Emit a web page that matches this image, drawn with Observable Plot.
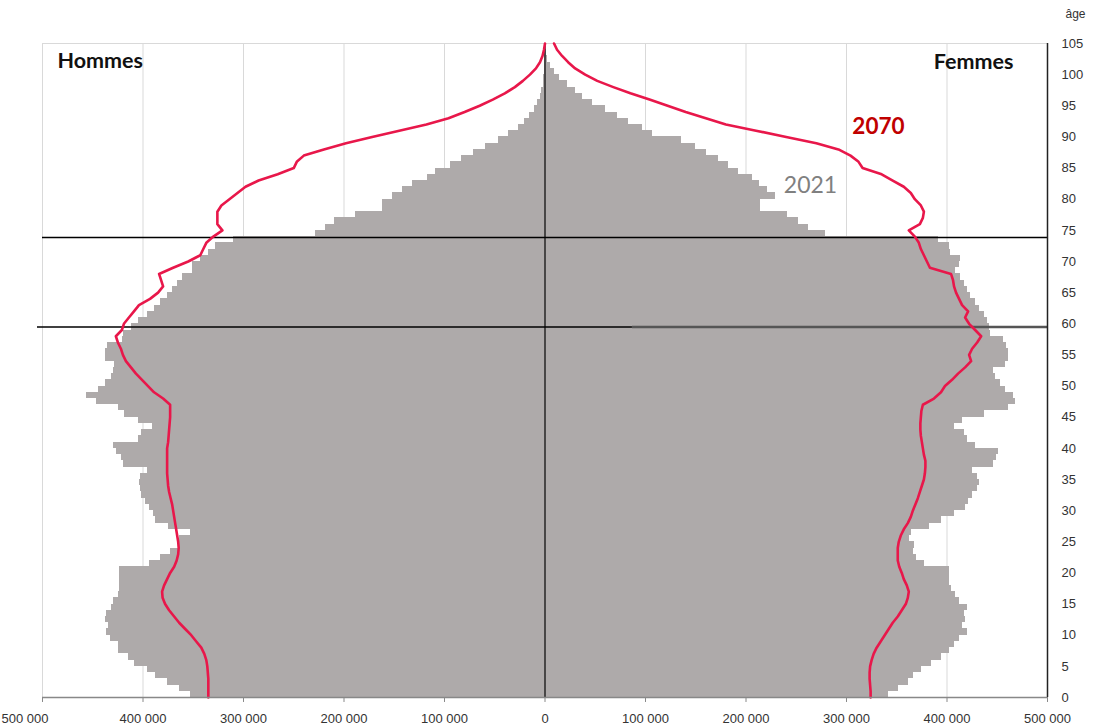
<!DOCTYPE html>
<html><head><meta charset="utf-8">
<script src="https://cdn.jsdelivr.net/npm/d3@7"></script>
<script src="https://cdn.jsdelivr.net/npm/@observablehq/plot@0.6"></script>
<style>body{margin:0;background:#fff}</style>
</head><body><div id="chart"></div>
<script>
// Ages (categories)
const ages = d3.range(0, 106);
// 2021 population (thousands) by single year of age, bars
const men2021 = [
 353,364,376,388,396,408,414,424,424,432,
 436,434,437,436,431,429,424,423,423,423,
 423,394,383,373,364,364,353,375,388,390,
 394,398,401,402,403,402,396,419,421,426,
 429,404,401,391,404,418,424,446,456,444,
 437,431,429,428,437,437,435,420,419,411,
 404,396,389,383,376,371,366,361,351,351,
 343,335,328,310,228,218,209,189,162,162,
 152,142,132,117,109,94,83,71,59,46,
 36,26,20,15,10,7,4.6,3,1.8,1.1,
 0.6,0.3,0.1,0.05,0,0];
const women2021 = [
 342,352,362,367,375,385,395,402,407,412,
 420,415,418,417,420,412,408,404,402,402,
 402,378,370,367,368,363,365,383,395,407,
 418,421,425,430,432,430,425,446,449,451,
 428,420,417,407,415,437,461,468,466,458,
 453,448,446,458,461,461,459,456,443,442,
 440,437,432,428,423,420,417,413,408,412,
 413,403,402,392,279,262,252,241,214,214,
 229,221,213,206,193,183,173,161,150,136,
 107,97,83,72,60,47,37,30,22,14,
 9,5,2,1,0.5,0.2];
// 2070 projection (thousands), red line
const men2070 = [
 335,335,335,335,335.5,336,337,339,342,347,
 352,358,364,369,374,378,380.5,381,379,376,
 373,369,366.5,365,364.5,365,366,367,368,369,
 370,371,372.5,374,375,375.5,376,376,376,376,
 376,375,374.5,374,373.5,373,373,373,380,389,
 395,401,407,412,417,420,422,425,427,421,
 419,414,409,404,393,385,380,382,384,370,
 355,343,340,337,330,321,326,326,326,322,
 314,306,298,285,266,250,247,240,220,198,
 172,145,118,96,80,65,52,40,30,22,
 15,9,5,2.5,1,0];
const women2070 = [
 324,324,323.5,323,323,323.5,325,327,330,334,
 338,342,346,351,355,359,361,362,360,357,
 355,352.5,351,351,351,352,354,357,361,364,
 366,368.5,371,373,375,377,378,378.5,378.5,377,
 376,375,374,373.5,373.5,374,374.5,376,387,394,
 398,405,411,418,424,422,425,430,434,428,
 422,418,421,415,412,409,407,406,404,383,
 380,377,374,372,368,362,373,376,377,374,
 368,364,357,346,335,316,312,304,292,270,
 240,210,180,160,140,122,104,85,68,52,
 40,30,23,17,12,9];
const xTicks = [-500000,-400000,-300000,-200000,-100000,0,100000,200000,300000,400000,500000];
const yTicks = d3.range(0, 106, 5);

const rows = ages.map((a, i) => ({
  age: a,
  men: men2021[i] * 1000, women: women2021[i] * 1000,
  men70: men2070[i] * 1000, women70: women2070[i] * 1000
}));
const fmt = v => d3.format(",")(Math.abs(v)).replace(/,/g, " ");
const barRows = rows.filter(d => d.age < 105);
const GRAY = "#aeaaaa", RED = "#e8174a";

const plot = Plot.plot({
  width: 1105, height: 728,
  marginLeft: 42, marginRight: 58, marginTop: 43, marginBottom: 31,
  x: {domain: [-500000, 500000], axis: null},
  y: {domain: [0, 105], axis: null},
  style: {fontFamily: "'Liberation Sans', Arial, sans-serif", background: "white", color: "#333"},
  marks: [
    Plot.ruleX(xTicks, {stroke: "#d9d9d9", strokeWidth: 1}),
    Plot.ruleY([105], {stroke: "#d9d9d9", strokeWidth: 1.2}),
    Plot.rectX(barRows, {y1: "age", y2: d => d.age + 1, x1: 0, x2: d => -d.men, fill: GRAY, shapeRendering: "crispEdges"}),
    Plot.rectX(barRows, {y1: "age", y2: d => d.age + 1, x1: 0, x2: "women", fill: GRAY, shapeRendering: "crispEdges"}),
    Plot.ruleX([0], {stroke: "#111", strokeWidth: 1.3}),
    Plot.ruleY([73.85], {stroke: "#000", strokeWidth: 1.6}),
    Plot.ruleY([59.48], {x1: -505000, x2: 87000, stroke: "#000", strokeWidth: 1.6}),
    Plot.ruleY([59.48], {x1: 87000, x2: 500000, stroke: "#555", strokeWidth: 2.6}),
    Plot.lineX(rows, {x: d => -d.men70, y: "age", stroke: RED, strokeWidth: 2.6, strokeLinejoin: "round"}),
    Plot.lineX(rows, {x: "women70", y: "age", stroke: RED, strokeWidth: 2.6, strokeLinejoin: "round"}),
    Plot.ruleX([500000], {stroke: "#222", strokeWidth: 1.5}),
    Plot.ruleY([0], {stroke: "#888", strokeWidth: 1.3}),
    Plot.ruleX(xTicks, {y1: 0, y2: -0.8, stroke: "#888"}),
    Plot.text(xTicks.slice(0, 1), {x: d => d, y: 0, dy: 21, dx: -41, text: fmt, textAnchor: "start", fontSize: 13, fill: "#333"}),
    Plot.text(xTicks.slice(1), {x: d => d, y: 0, dy: 21, text: fmt, fontSize: 13, fill: "#333"}),
    Plot.text(yTicks, {x: 500000, y: d => d, dx: 14, text: d => String(d), textAnchor: "start", fontSize: 13, fill: "#333"}),
    Plot.text(["âge"], {x: 500000, y: 105, dx: 28, dy: -29, fontSize: 12, fill: "#333"}),
    Plot.text(["Hommes"], {x: -500000, y: 105, dx: 15, dy: 18, textAnchor: "start", fontWeight: "bold", fontSize: 21.5, fontFamily: "Lato", fill: "#111"}),
    Plot.text(["Femmes"], {x: 500000, y: 105, dx: -34, dy: 19, textAnchor: "end", fontWeight: "bold", fontSize: 21.5, fontFamily: "Lato", fill: "#111"}),
    Plot.text(["2070"], {x: 331800, y: 91.7, fontWeight: "bold", fontSize: 22.5, fontFamily: "Lato", fill: "#c00000"}),
    Plot.text(["2021"], {x: 264200, y: 82.2, fontSize: 23, fontFamily: "Lato", fill: "#808080"})
  ]
});
document.getElementById("chart").appendChild(plot);
</script>
</body></html>
